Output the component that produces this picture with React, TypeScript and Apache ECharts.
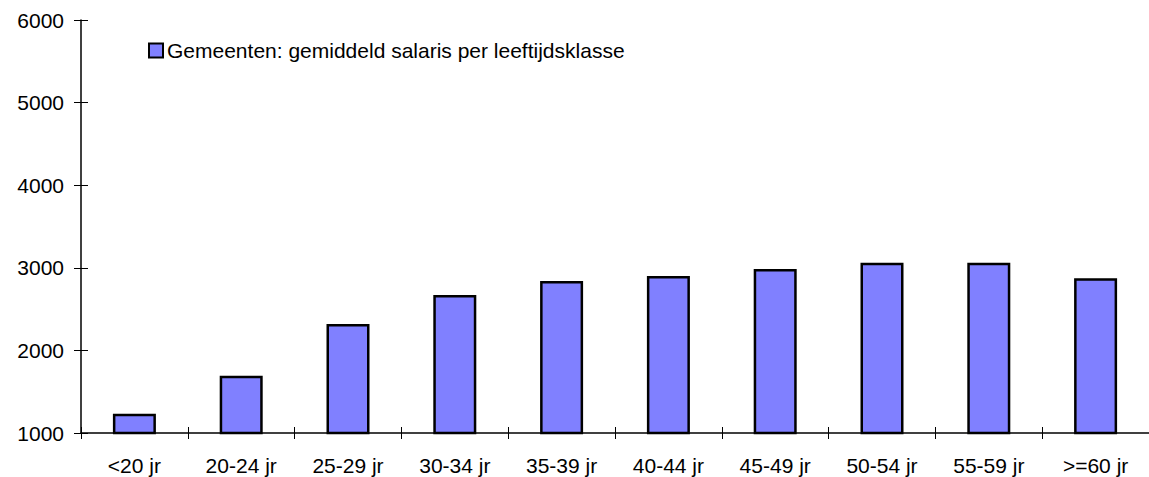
import React, { useEffect, useRef } from "react";
import * as echarts from "echarts";

const categories = ["<20 jr", "20-24 jr", "25-29 jr", "30-34 jr", "35-39 jr", "40-44 jr", "45-49 jr", "50-54 jr", "55-59 jr", ">=60 jr"];
const salaris = [1234, 1694, 2320, 2671, 2840, 2900, 2985, 3060, 3062, 2873];
const seriesName = "Gemeenten: gemiddeld salaris per leeftijdsklasse";
const yMin = 1000;
const yMax = 6000;
const yInterval = 1000;

const FONT = "'Liberation Sans', Arial, sans-serif";
const FS = 21;

export default function App() {
  const ref = useRef<HTMLDivElement>(null);
  useEffect(() => {
    if (!ref.current) return;
    const chart = echarts.init(ref.current, undefined, { renderer: "svg" });
    const yBase = {
      type: "value" as const,
      min: yMin,
      max: yMax,
      interval: yInterval,
      splitLine: { show: false },
    };
    chart.setOption({
      animation: false,
      textStyle: { fontFamily: FONT },
      legend: {
        show: true,
        left: 148,
        top: 40,
        padding: 0,
        itemWidth: 14,
        itemHeight: 14,
        itemGap: 5,
        textStyle: { fontFamily: FONT, fontSize: FS, color: "#000", padding: [0, 0, 0, -1] },
        data: [{ name: seriesName, icon: "rect", itemStyle: { color: "#8080FF", borderColor: "#000", borderWidth: 2 } }],
      },
      grid: { left: 81, top: 20, right: -1, bottom: 44, containLabel: false },
      xAxis: [
        {
          type: "category",
          data: categories,
          axisLine: { show: true, lineStyle: { color: "#000", width: 1.5 } },
          axisTick: { show: true, length: 6, alignWithLabel: false, lineStyle: { color: "#000" } },
          axisLabel: { color: "#000", fontSize: FS, fontFamily: FONT, margin: 22, interval: 0 },
        },
        {
          type: "category",
          data: categories,
          position: "bottom",
          axisLine: { show: false },
          axisTick: { show: true, inside: true, length: 6, lineStyle: { color: "#000" } },
          axisLabel: { show: false },
        },
      ],
      yAxis: [
        {
          ...yBase,
          axisLine: { show: true, lineStyle: { color: "#000", width: 1.5 } },
          axisTick: { show: true, length: 7, lineStyle: { color: "#000" } },
          axisLabel: { color: "#000", fontSize: FS, fontFamily: FONT, margin: 17, formatter: (v: number) => String(v) },
        },
        {
          ...yBase,
          position: "left",
          axisLine: { show: false },
          axisTick: { show: true, inside: true, length: 7, lineStyle: { color: "#000" } },
          axisLabel: { show: false },
        },
      ],
      series: [
        {
          name: seriesName,
          type: "bar",
          data: salaris,
          barWidth: 43,
          itemStyle: { color: "#8080FF", borderColor: "#000", borderWidth: 2.5 },
        },
      ],
    });
    return () => chart.dispose();
  }, []);
  return <div ref={ref} style={{ width: 1149, height: 477, position: "absolute", left: 0, top: 0 }} />;
}
